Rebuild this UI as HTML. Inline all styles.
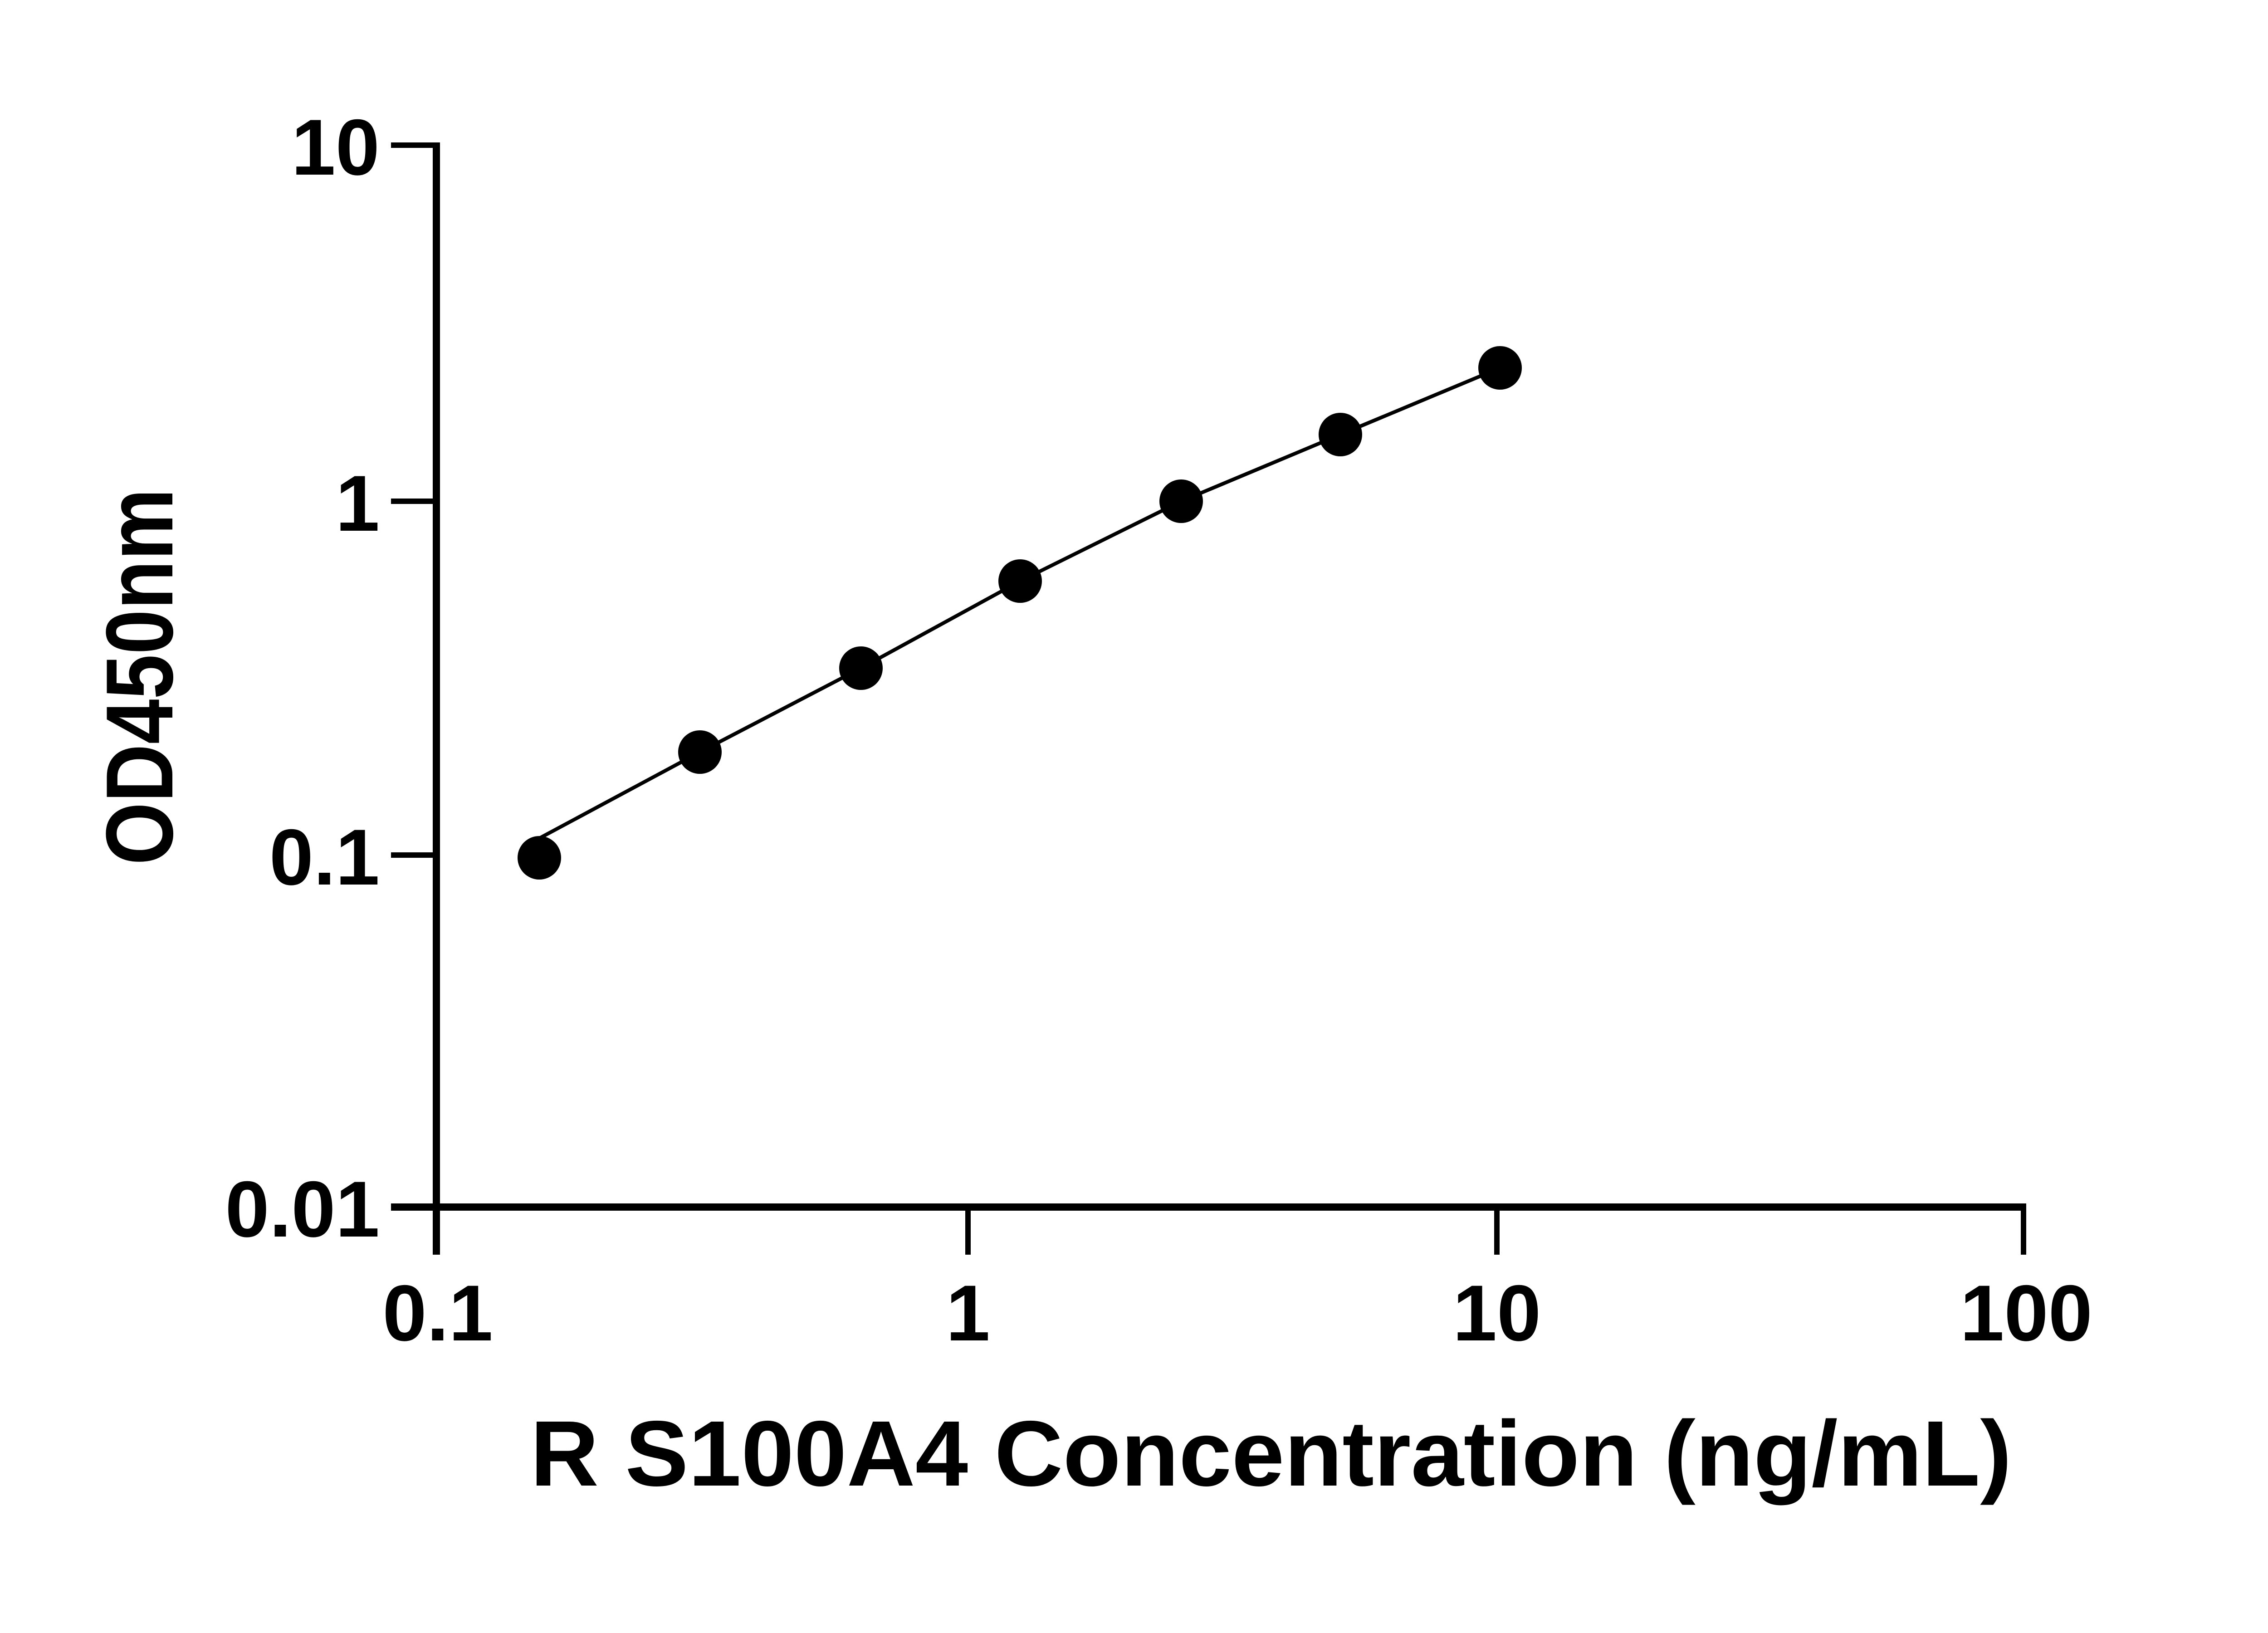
<!DOCTYPE html>
<html><head><meta charset="utf-8"><style>html,body{margin:0;padding:0;background:#fff}svg{display:block}</style></head>
<body>
<svg width="5142" height="3600" viewBox="0 0 5142 3600" xmlns="http://www.w3.org/2000/svg">
<g stroke="#000" fill="none">
<line x1="962" y1="314" x2="962" y2="2766" stroke-width="16"/>
<line x1="862" y1="2661" x2="4467" y2="2661" stroke-width="16"/>
<line x1="862" y1="320" x2="962" y2="320" stroke-width="12"/>
<line x1="862" y1="1105" x2="962" y2="1105" stroke-width="12"/>
<line x1="862" y1="1885" x2="962" y2="1885" stroke-width="12"/>
<line x1="2134" y1="2661" x2="2134" y2="2766" stroke-width="12"/>
<line x1="3300" y1="2661" x2="3300" y2="2766" stroke-width="12"/>
<line x1="4461" y1="2661" x2="4461" y2="2766" stroke-width="12"/>
<polyline stroke-width="8" points="1189,1848 1543,1658 1898,1473 2249,1281 2604,1105 2955,958 3307,811"/>
</g>
<g fill="#000">
<circle cx="1189" cy="1891" r="48"/>
<circle cx="1543" cy="1658" r="48"/>
<circle cx="1898" cy="1473" r="48"/>
<circle cx="2249" cy="1281" r="48"/>
<circle cx="2604" cy="1105" r="48"/>
<circle cx="2955" cy="958" r="48"/>
<circle cx="3307" cy="811" r="48"/>
</g>
<g font-family="Liberation Sans, sans-serif" font-weight="bold" font-size="175" fill="#000">
<text x="837" y="385" text-anchor="end">10</text>
<text x="837" y="1170" text-anchor="end">1</text>
<text x="837" y="1950" text-anchor="end">0.1</text>
<text x="837" y="2726" text-anchor="end">0.01</text>
<text x="965" y="2955" text-anchor="middle">0.1</text>
<text x="2134" y="2955" text-anchor="middle">1</text>
<text x="3300" y="2955" text-anchor="middle">10</text>
<text x="4467" y="2955" text-anchor="middle">100</text>
<text x="1169" y="3275" font-size="205" textLength="3266" lengthAdjust="spacingAndGlyphs">R S100A4 Concentration (ng/mL)</text>
<text transform="translate(380,1907) rotate(-90)" font-size="210" textLength="830" lengthAdjust="spacingAndGlyphs">OD450nm</text>
</g>
</svg>
</body></html>
